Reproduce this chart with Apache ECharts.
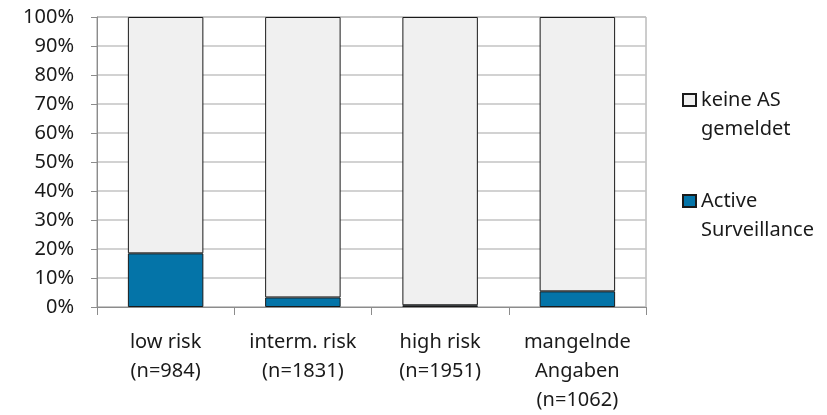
<!DOCTYPE html>
<html>
<head>
<meta charset="utf-8">
<script src="https://cdn.jsdelivr.net/npm/echarts@6/dist/echarts.min.js"></script>
<style>
  html, body { margin: 0; padding: 0; background: #fff; }
  #chart { width: 827px; height: 415px; }
</style>
</head>
<body>
<div id="chart"></div>
<script>
// Risk groups on the x axis
const categories = [
  'low risk\n(n=984)',
  'interm. risk\n(n=1831)',
  'high risk\n(n=1951)',
  'mangelnde\nAngaben\n(n=1062)'
];
// Share of patients under Active Surveillance (%)
const activeSurveillance = [18.5, 3.3, 0.6, 5.4];
// Share with no Active Surveillance reported (%)
const keineAS = [81.5, 96.7, 99.4, 94.6];
// Y axis tick values (%)
const yTicks = [0, 10, 20, 30, 40, 50, 60, 70, 80, 90, 100];
// Legend entries, top to bottom, with their wrapped labels
const legendNames = ['keine AS gemeldet', 'Active Surveillance'];
const legendLabels = ['keine AS\ngemeldet', 'Active\nSurveillance'];

const font = 'Noto Sans';
const chart = echarts.init(document.getElementById('chart'), null, { renderer: 'canvas' });

chart.setOption({
  animation: false,
  backgroundColor: '#ffffff',
  textStyle: { fontFamily: font },
  grid: {
    left: 97, top: 17, right: 181, bottom: 102,
    show: true, borderColor: '#9a9a9a', borderWidth: 1, backgroundColor: 'transparent'
  },
  legend: {
    orient: 'vertical',
    left: 682,
    top: 56.5,
    padding: 0,
    itemGap: 14,
    itemWidth: 13,
    itemHeight: 12,
    icon: 'rect',
    data: legendNames,
    // a leading blank line keeps the first text line level with the swatch
    formatter: function (name) {
      return '\n' + legendLabels[legendNames.indexOf(name)];
    },
    textStyle: {
      fontFamily: font, fontSize: 20, color: '#1a1a1a', lineHeight: 29
    }
  },
  xAxis: {
    type: 'category',
    data: categories,
    axisLine: { lineStyle: { color: '#8c8c8c', width: 1 } },
    axisTick: { show: true, length: 8, lineStyle: { color: '#8c8c8c' } },
    axisLabel: {
      interval: 0, margin: 21, fontFamily: font, fontSize: 20,
      color: '#1a1a1a', lineHeight: 29, align: 'center'
    }
  },
  yAxis: {
    type: 'value',
    min: yTicks[0],
    max: yTicks[yTicks.length - 1],
    interval: 10,
    axisLine: { show: true, lineStyle: { color: '#8c8c8c', width: 1 } },
    axisTick: { show: true, length: 6, lineStyle: { color: '#8c8c8c' } },
    axisLabel: {
      margin: 23, fontFamily: font, fontSize: 20, color: '#1a1a1a',
      formatter: '{value}%'
    },
    splitLine: { show: true, lineStyle: { color: '#c3c3c3', width: 1.5 } }
  },
  series: [
    {
      name: 'Active Surveillance',
      type: 'bar',
      stack: 'total',
      barWidth: '55%',
      data: activeSurveillance,
      itemStyle: { color: '#0474a8', borderColor: '#1a1a1a', borderWidth: 1 }
    },
    {
      name: 'keine AS gemeldet',
      type: 'bar',
      stack: 'total',
      barWidth: '55%',
      data: keineAS,
      itemStyle: { color: '#f0f0f0', borderColor: '#1a1a1a', borderWidth: 1 }
    }
  ]
});
</script>
</body>
</html>
